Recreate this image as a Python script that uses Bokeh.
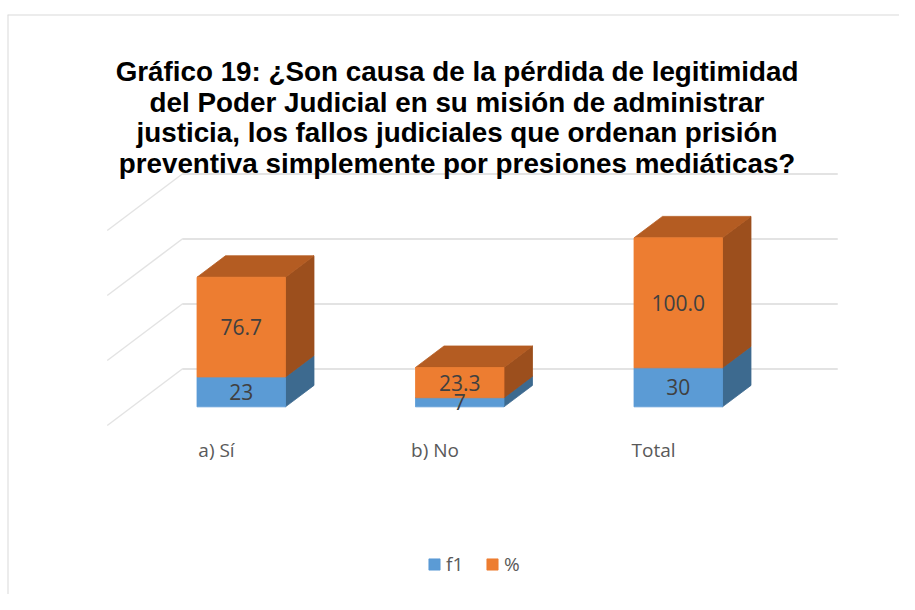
from bokeh.plotting import figure
from bokeh.models import Range1d, Label, Legend, LegendItem
from bokeh.core.properties import value
from bokeh.embed import file_html
from bokeh.resources import INLINE

# ---- data ----
categories = ["a) Sí", "b) No", "Total"]
f1 = [23, 7, 30]
pct = [76.7, 23.3, 100.0]
grid_ticks = [0, 50, 100, 150]
title_lines = [
    "Gráfico 19: ¿Son causa de la pérdida de legitimidad",
    "del Poder Judicial en su misión de administrar",
    "justicia, los fallos judiciales que ordenan prisión",
    "preventiva simplemente por presiones mediáticas?",
]

# ---- layout constants (figure pixels -> data) ----
W, H = 899, 594
BORDER_LEFT, BORDER_TOP = 7, 14
X0_PX, X_STEP = 216.0, 218.5       # x of category 0 (front of floor), px per category
Y0_PX, Y_SCALE = 425.0, 1.3        # y of value 0 (front of floor), px per unit
DEPTH_PX = (75.0, 56.5)            # full floor depth offset in px

def u_of(px):
    return (px - X0_PX) / X_STEP

def v_of(py):
    return (Y0_PX - py) / Y_SCALE

DX = DEPTH_PX[0] / X_STEP
DY = DEPTH_PX[1] / Y_SCALE
Z0, Z1 = 0.33, 0.71
BAR_W = 0.405

frame_left, frame_right = BORDER_LEFT, W
frame_top, frame_bottom = BORDER_TOP, H

p = figure(width=W, height=H, output_backend="svg", toolbar_location=None,
           x_range=Range1d(u_of(frame_left), u_of(frame_right)),
           y_range=Range1d(v_of(frame_bottom), v_of(frame_top)),
           min_border_left=BORDER_LEFT, min_border_right=0, min_border_bottom=0,
           min_border_top=BORDER_TOP, title=None)
p.xaxis.visible = False
p.yaxis.visible = False
p.grid.visible = False
p.outline_line_color = None
p.background_fill_color = "white"
p.border_fill_color = "white"

# chart-area border (left and top edges)
xs0, xs1 = p.x_range.start, p.x_range.end
ys0, ys1 = p.y_range.start, p.y_range.end
p.segment(x0=[xs0, xs0], y0=[ys0, ys1], x1=[xs0, xs1], y1=[ys1, ys1],
          line_color="#d9d9d9", line_width=2)

# ---- gridlines: back wall and side wall ----
n = len(categories)
left_edge, right_edge = -0.5, n - 0.5
grid_color = "#e3e3e3"
p.multi_line(xs=[[left_edge + DX, right_edge + DX] for t in grid_ticks],
             ys=[[t + DY, t + DY] for t in grid_ticks],
             line_color=grid_color, line_width=2)
p.multi_line(xs=[[left_edge, left_edge + DX] for t in grid_ticks],
             ys=[[t, t + DY] for t in grid_ticks],
             line_color=grid_color, line_width=1.5)

# ---- 3D stacked bars ----
def face(pts):
    return [pt[0] + pt[2] * DX for pt in pts], [pt[1] + pt[2] * DY for pt in pts]

def seg_faces(i, lo, hi):
    xl, xr = i - BAR_W / 2, i + BAR_W / 2
    front = face([(xl, lo, Z0), (xr, lo, Z0), (xr, hi, Z0), (xl, hi, Z0)])
    side = face([(xr, lo, Z0), (xr, lo, Z1), (xr, hi, Z1), (xr, hi, Z0)])
    top = face([(xl, hi, Z0), (xr, hi, Z0), (xr, hi, Z1), (xl, hi, Z1)])
    return front, side, top

series = [
    ("f1", f1, "#5B9BD5", "#3D6A8F", "#41719C"),
    ("%", pct, "#ED7D31", "#9C4F1D", "#B45C22"),
]

base = [0.0] * n
legend_items = []
label_x, label_y, label_t = [], [], []
for name, vals, c_front, c_side, c_top in series:
    fx, fy, sx, sy, tx, ty = [], [], [], [], [], []
    for i in range(n):
        lo, hi = base[i], base[i] + vals[i]
        (a, b), (c, d), (e, f) = seg_faces(i, lo, hi)
        fx.append(a); fy.append(b)
        sx.append(c); sy.append(d)
        tx.append(e); ty.append(f)
        label_x.append(i + Z0 * DX)
        label_y.append(lo + vals[i] / 2 + Z0 * DY)
        label_t.append(f"{vals[i]:.1f}" if name == "%" else f"{vals[i]:g}")
    p.patches(xs=sx, ys=sy, fill_color=c_side, line_color=c_side, line_width=0.8)
    p.patches(xs=tx, ys=ty, fill_color=c_top, line_color=c_top, line_width=0.8)
    r = p.patches(xs=fx, ys=fy, fill_color=c_front, line_color=c_front, line_width=0.8)
    legend_items.append(LegendItem(label=name, renderers=[r]))
    base = [base[i] + vals[i] for i in range(n)]

p.text(x=label_x, y=label_y, text=label_t, text_align="center", text_baseline="middle",
       text_font=value("Open Sans"), text_font_size="21px", text_color="#404040")

# category labels
p.text(x=list(range(n)), y=[v_of(449)] * n, text=categories, text_align="center",
       text_baseline="middle", text_font=value("Open Sans"), text_font_size="19px",
       text_color="#595959")

# title
for k, line in enumerate(title_lines):
    p.add_layout(Label(x=u_of(456.5), y=v_of(71 + 30.7 * k), text=line,
                       text_align="center", text_baseline="alphabetic",
                       text_font="Liberation Sans", text_font_style="bold",
                       text_font_size="27.8px", text_color="black"))

legend = Legend(items=legend_items, orientation="horizontal",
                location=(427 - frame_left, frame_bottom - 577),
                padding=0, margin=0, spacing=19, label_standoff=5,
                glyph_width=14, glyph_height=14, label_width=20,
                label_text_font="Open Sans", label_text_font_size="19px",
                label_text_color="#595959", border_line_color=None,
                background_fill_alpha=0)
p.add_layout(legend)

open("out.html", "w").write(file_html(p, INLINE))
